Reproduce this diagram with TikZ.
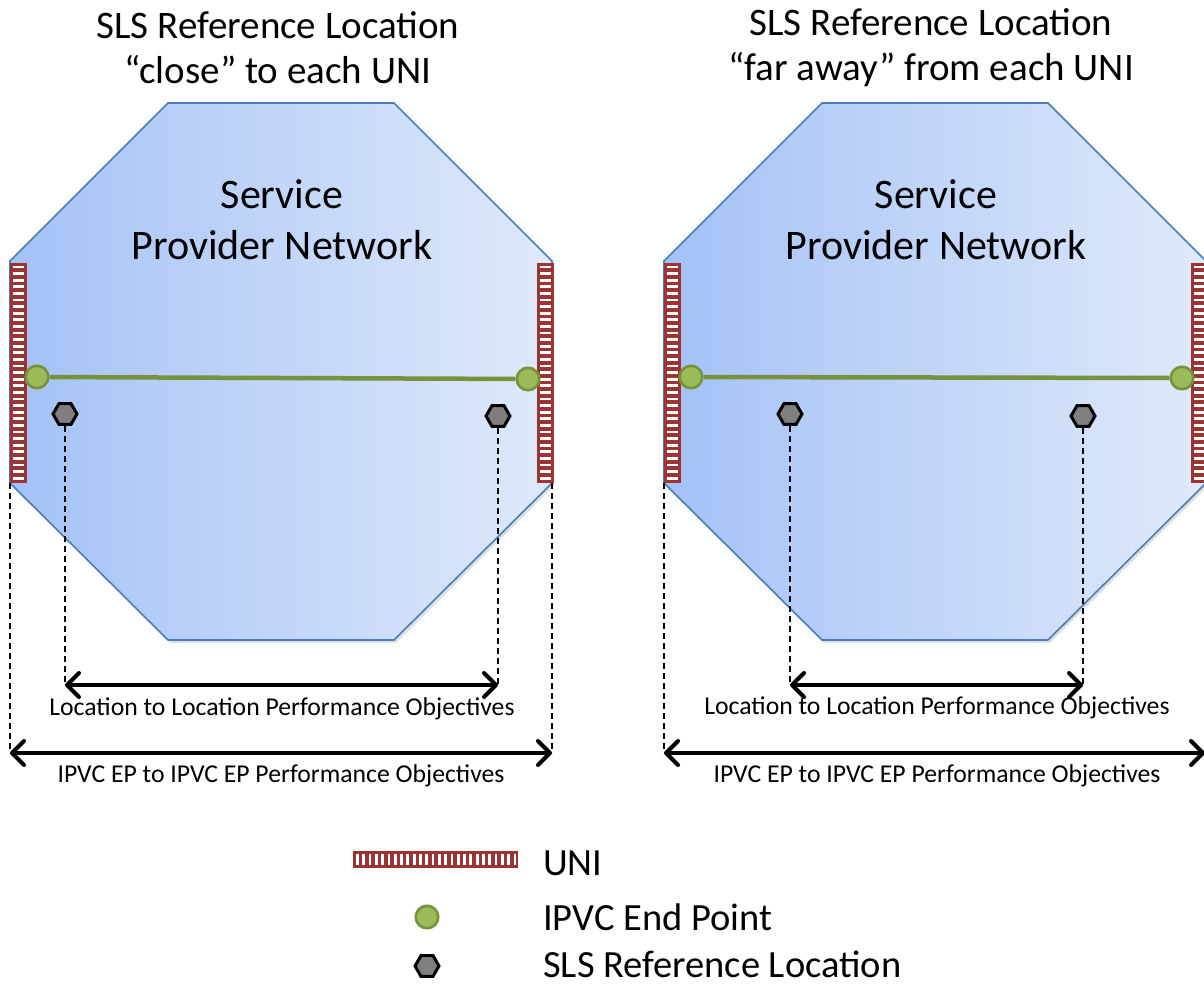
\documentclass[tikz,border=0pt]{standalone}
\usepackage{fontspec}
\setmainfont{Carlito}
\usetikzlibrary{arrows.meta,shapes.geometric,shadows}
\definecolor{netleft}{HTML}{A4C2F7}
\definecolor{netright}{HTML}{DFE9FA}
\definecolor{netedge}{HTML}{4A7EBB}
\definecolor{unired}{HTML}{9C3434}
\definecolor{epfill}{HTML}{9BBB59}
\definecolor{epedge}{HTML}{76923C}
\definecolor{slsgray}{HTML}{7F7F7F}
\begin{document}
\begin{tikzpicture}[x=1pt, y=-1pt,
    network/.style = {draw=netedge, line width=1.6pt, left color=netleft, right color=netright,
                      drop shadow={opacity=0.25, shadow xshift=2pt, shadow yshift=-3pt}},
    univert/.style = {fill=unired, minimum width=17pt, minimum height=220pt, inner sep=0pt,
                      path picture={\foreach \k in {0,...,32}
                        \fill[white] ([xshift=3pt, yshift={-2.5pt-\k*6.6pt}]path picture bounding box.north west) rectangle ++(11pt,-2.8pt);}},
    unihoriz/.style = {fill=unired, minimum width=165pt, minimum height=17pt, inner sep=0pt,
                      path picture={\foreach \k in {0,...,25}
                        \fill[white] ([xshift={3pt+\k*6.3pt}, yshift=-3pt]path picture bounding box.north west) rectangle ++(2.8pt,-11pt);}},
    endpoint/.style = {circle, fill=epfill, draw=epedge, line width=2.6pt, minimum size=22.5pt, inner sep=0pt},
    slsref/.style = {regular polygon, regular polygon sides=6, fill=slsgray, draw=black, line width=3pt,
                     minimum size=24pt, inner sep=0pt},
    link/.style = {draw=epedge, line width=4.5pt},
    guide/.style = {dashed, line width=1.5pt, dash pattern=on 6pt off 4pt},
    dimarrow/.style = {line width=4pt, {Straight Barb[length=12pt,width=24pt,round]}-{Straight Barb[length=12pt,width=24pt,round]}},
    title/.style = {align=center, font=\fontsize{39}{45}\selectfont},
    netname/.style = {align=center, font=\fontsize{42}{51}\selectfont},
    objective/.style = {font=\fontsize{25.7}{30}\selectfont},
    legend/.style = {anchor=base west, inner sep=0pt, font=\fontsize{38.5}{45}\selectfont}]
  \clip (0,0) rectangle (1204,983);
  \useasboundingbox (0,0) rectangle (1204,983);

  % left panel: reference location close to each UNI
  \path[network] (10,261) -- (168,103) -- (394,103) -- (552,261) -- (552,483) -- (394,640) -- (168,640) -- (10,483) -- cycle;
  \node[title] (titleA) at (278,48) {SLS Reference Location\\“close” to each UNI};
  \node[netname] (netA) at (282,220) {Service\\Provider Network};
  \node[univert] (uniA) at (18.5,373) {};
  \node[univert] (uniB) at (545,373) {};
  \node[endpoint] (epA) at (37,377) {};
  \node[endpoint] (epB) at (528,379) {};
  \draw[link] (epA) -- (epB);
  \node[slsref] (refA) at (65,414) {};
  \node[slsref] (refB) at (498,416) {};
  \coordinate (locA) at (65,685);
  \coordinate (locB) at (498,685);
  \coordinate (ipA) at (10,753);
  \coordinate (ipB) at (552,753);
  \draw[guide] (refA) -- (locA);
  \draw[guide] (refB) -- (locB);
  \draw[guide] (10,483) -- (ipA);
  \draw[guide] (552,483) -- (ipB);
  \draw[dimarrow] (locA) -- (locB);
  \draw[dimarrow] (ipA) -- (ipB);
  \node[objective] (objA) at (282,709) {Location to Location Performance Objectives};
  \node[objective] (objB) at (281,776) {IPVC EP to IPVC EP Performance Objectives};

  % right panel: reference location far away from each UNI
  \path[network] (664,261) -- (822,103) -- (1048,103) -- (1206,261) -- (1206,483) -- (1048,640) -- (822,640) -- (664,483) -- cycle;
  \node[title] (titleC) at (931,48) {SLS Reference Location\\“far away” from each UNI};
  \node[netname] (netC) at (936,220) {Service\\Provider Network};
  \node[univert] (uniC) at (672.5,373) {};
  \node[univert] (uniD) at (1199,373) {};
  \node[endpoint] (epC) at (691,377) {};
  \node[endpoint] (epD) at (1182,378) {};
  \draw[link] (epC) -- (epD);
  \node[slsref] (refC) at (790,414) {};
  \node[slsref] (refD) at (1083,416) {};
  \coordinate (locC) at (790,685);
  \coordinate (locD) at (1083,685);
  \coordinate (ipC) at (664,753);
  \coordinate (ipD) at (1205,753);
  \draw[guide] (refC) -- (locC);
  \draw[guide] (refD) -- (locD);
  \draw[guide] (664,483) -- (ipC);
  \draw[dimarrow] (locC) -- (locD);
  \draw[dimarrow] (ipC) -- (ipD);
  \node[objective] (objC) at (937,708) {Location to Location Performance Objectives};
  \node[objective] (objD) at (937,776) {IPVC EP to IPVC EP Performance Objectives};

  % legend
  \node[unihoriz] (legUni) at (435.5,859.5) {};
  \node[endpoint] (legEp) at (427,917) {};
  \node[slsref] (legRef) at (427,966) {};
  \node[legend] (txtUni) at (543,875) {UNI};
  \node[legend] (txtEp) at (543,930) {IPVC End Point};
  \node[legend] (txtRef) at (543,977) {SLS Reference Location};
\end{tikzpicture}
\end{document}
